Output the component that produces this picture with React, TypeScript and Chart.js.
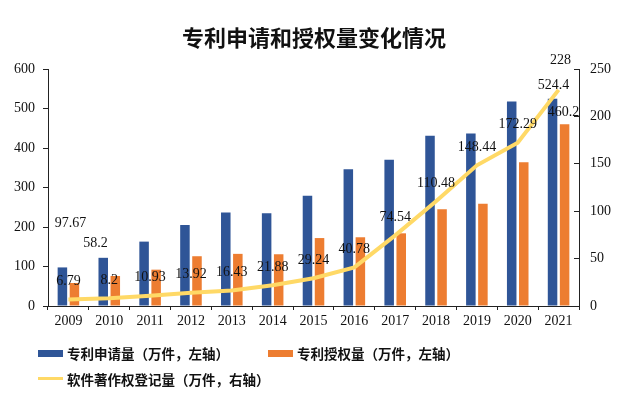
import React, { useEffect, useRef } from 'react';
import { Chart, registerables } from 'chart.js';

Chart.register(...registerables);

const years = ['2009', '2010', '2011', '2012', '2013', '2014', '2015', '2016', '2017', '2018', '2019', '2020', '2021'];
const patentApplications = [97.67, 122, 163, 205, 237, 235, 279, 346, 370, 431, 437, 518, 524.4];
const patentGrants = [58.2, 76, 92, 126, 132, 131, 172, 174, 184, 245, 259, 364, 460.2];
const softwareCopyrights = [6.79, 8.2, 10.93, 13.92, 16.43, 21.88, 29.24, 40.78, 74.54, 110.48, 148.44, 172.29, 228];
const leftAxisMax = 600;
const leftAxisStep = 100;
const rightAxisMax = 250;
const rightAxisStep = 50;

const title = '专利申请和授权量变化情况';
const seriesNames = ['专利申请量（万件，左轴）', '专利授权量（万件，左轴）', '软件著作权登记量（万件，右轴）'];

const BLUE = '#2F5597';
const ORANGE = '#ED7D31';
const YELLOW = '#FFD966';
const NUM_FONT = '"Liberation Serif", "Times New Roman", serif';
const CJK_FONT = '"Noto Sans CJK SC", "Noto Sans", sans-serif';

// which bar values get labels, with a small offset from the bar top (style only)
const barLabelStyle: Record<string, { dx: number; dy: number }> = {
  '0-0': { dx: 8, dy: -44 },
  '1-0': { dx: 21, dy: -40 },
  '0-12': { dx: 1, dy: -14 },
  '1-12': { dx: -1, dy: -12 },
};

const valueLabels = {
  id: 'valueLabels',
  afterDatasetsDraw(chart: any) {
    const ctx = chart.ctx;
    ctx.save();
    ctx.font = `14px ${NUM_FONT}`;
    ctx.fillStyle = '#111';
    ctx.textAlign = 'center';
    ctx.textBaseline = 'middle';
    chart.data.datasets.forEach((ds: any, di: number) => {
      const meta = chart.getDatasetMeta(di);
      meta.data.forEach((el: any, i: number) => {
        const text = String(ds.data[i]);
        if (ds.type === 'line') {
          const last = i === ds.data.length - 1;
          ctx.fillText(text, el.x + (last ? 2 : 0), el.y + (last ? -30 : -18));
        } else {
          const st = barLabelStyle[`${di}-${i}`];
          if (st) ctx.fillText(text, el.x + st.dx, el.y + st.dy);
        }
      });
    });
    ctx.restore();
  },
};

export default function App() {
  const canvasRef = useRef<HTMLCanvasElement | null>(null);

  useEffect(() => {
    document.body.style.margin = '0';
    const canvas = canvasRef.current;
    if (!canvas) return;
    const axisColor = '#222';
    const chart = new Chart(canvas, {
      type: 'bar',
      data: {
        labels: years,
        datasets: [
          {
            type: 'bar',
            label: seriesNames[0],
            data: patentApplications,
            backgroundColor: BLUE,
            yAxisID: 'yL',
            order: 2,
            categoryPercentage: 0.59,
            barPercentage: 0.79,
          },
          {
            type: 'bar',
            label: seriesNames[1],
            data: patentGrants,
            backgroundColor: ORANGE,
            yAxisID: 'yL',
            order: 2,
            categoryPercentage: 0.59,
            barPercentage: 0.79,
          },
          {
            type: 'line',
            label: seriesNames[2],
            data: softwareCopyrights,
            borderColor: YELLOW,
            backgroundColor: YELLOW,
            borderWidth: 4,
            pointRadius: 0,
            tension: 0,
            yAxisID: 'yR',
            order: 1,
          },
        ] as any,
      },
      options: {
        animation: false,
        responsive: false,
        maintainAspectRatio: false,
        layout: { padding: { top: 69, left: 0, right: 0, bottom: 0 } },
        plugins: {
          legend: { display: false },
          tooltip: { enabled: false },
          title: { display: false },
        },
        scales: {
          x: {
            type: 'category',
            offset: true,
            grid: { display: true, drawOnChartArea: false, drawTicks: true, tickLength: 4, color: axisColor, offset: true },
            border: { display: true, color: axisColor, width: 1 },
            ticks: { color: '#111', font: { family: NUM_FONT, size: 14 }, padding: 3, maxRotation: 0 },
            afterFit: (s: any) => { s.height = 90; },
          },
          yL: {
            type: 'linear',
            position: 'left',
            min: 0,
            max: leftAxisMax,
            ticks: { stepSize: leftAxisStep, color: '#111', font: { family: NUM_FONT, size: 14 }, padding: 8 },
            grid: { display: true, drawOnChartArea: false, drawTicks: true, tickLength: 5, color: axisColor },
            border: { display: true, color: axisColor, width: 1 },
            afterFit: (s: any) => { s.width = 48; },
          },
          yR: {
            type: 'linear',
            position: 'right',
            min: 0,
            max: rightAxisMax,
            ticks: { stepSize: rightAxisStep, color: '#111', font: { family: NUM_FONT, size: 14 }, padding: 16 },
            grid: { display: true, drawOnChartArea: false, drawTicks: true, tickLength: -5, color: axisColor },
            border: { display: true, color: axisColor, width: 1 },
            afterFit: (s: any) => { s.width = 41; },
          },
        },
      } as any,
      plugins: [valueLabels],
    });
    return () => chart.destroy();
  }, []);

  const legendText: React.CSSProperties = {
    position: 'absolute',
    fontFamily: CJK_FONT,
    fontWeight: 700,
    fontSize: 13.5,
    color: '#111',
    lineHeight: '16px',
    whiteSpace: 'nowrap',
  };

  return (
    <div style={{ position: 'relative', width: 620, height: 396, background: '#fff', overflow: 'hidden' }}>
      <canvas ref={canvasRef} width={620} height={396} style={{ position: 'absolute', left: 0, top: 0, width: 620, height: 396 }} />
      <div
        style={{
          position: 'absolute',
          left: 0,
          top: 22,
          width: 628,
          textAlign: 'center',
          fontFamily: CJK_FONT,
          fontWeight: 700,
          fontSize: 22,
          lineHeight: '28px',
          color: '#111',
        }}
      >
        {title}
      </div>
      <div style={{ position: 'absolute', left: 38, top: 350, width: 25, height: 7, background: BLUE }} />
      <div style={{ ...legendText, left: 67, top: 345 }}>{seriesNames[0]}</div>
      <div style={{ position: 'absolute', left: 268, top: 350, width: 25, height: 7, background: ORANGE }} />
      <div style={{ ...legendText, left: 297, top: 345 }}>{seriesNames[1]}</div>
      <div style={{ position: 'absolute', left: 38, top: 377, width: 25, height: 3, background: YELLOW }} />
      <div style={{ ...legendText, left: 67, top: 371 }}>{seriesNames[2]}</div>
    </div>
  );
}
